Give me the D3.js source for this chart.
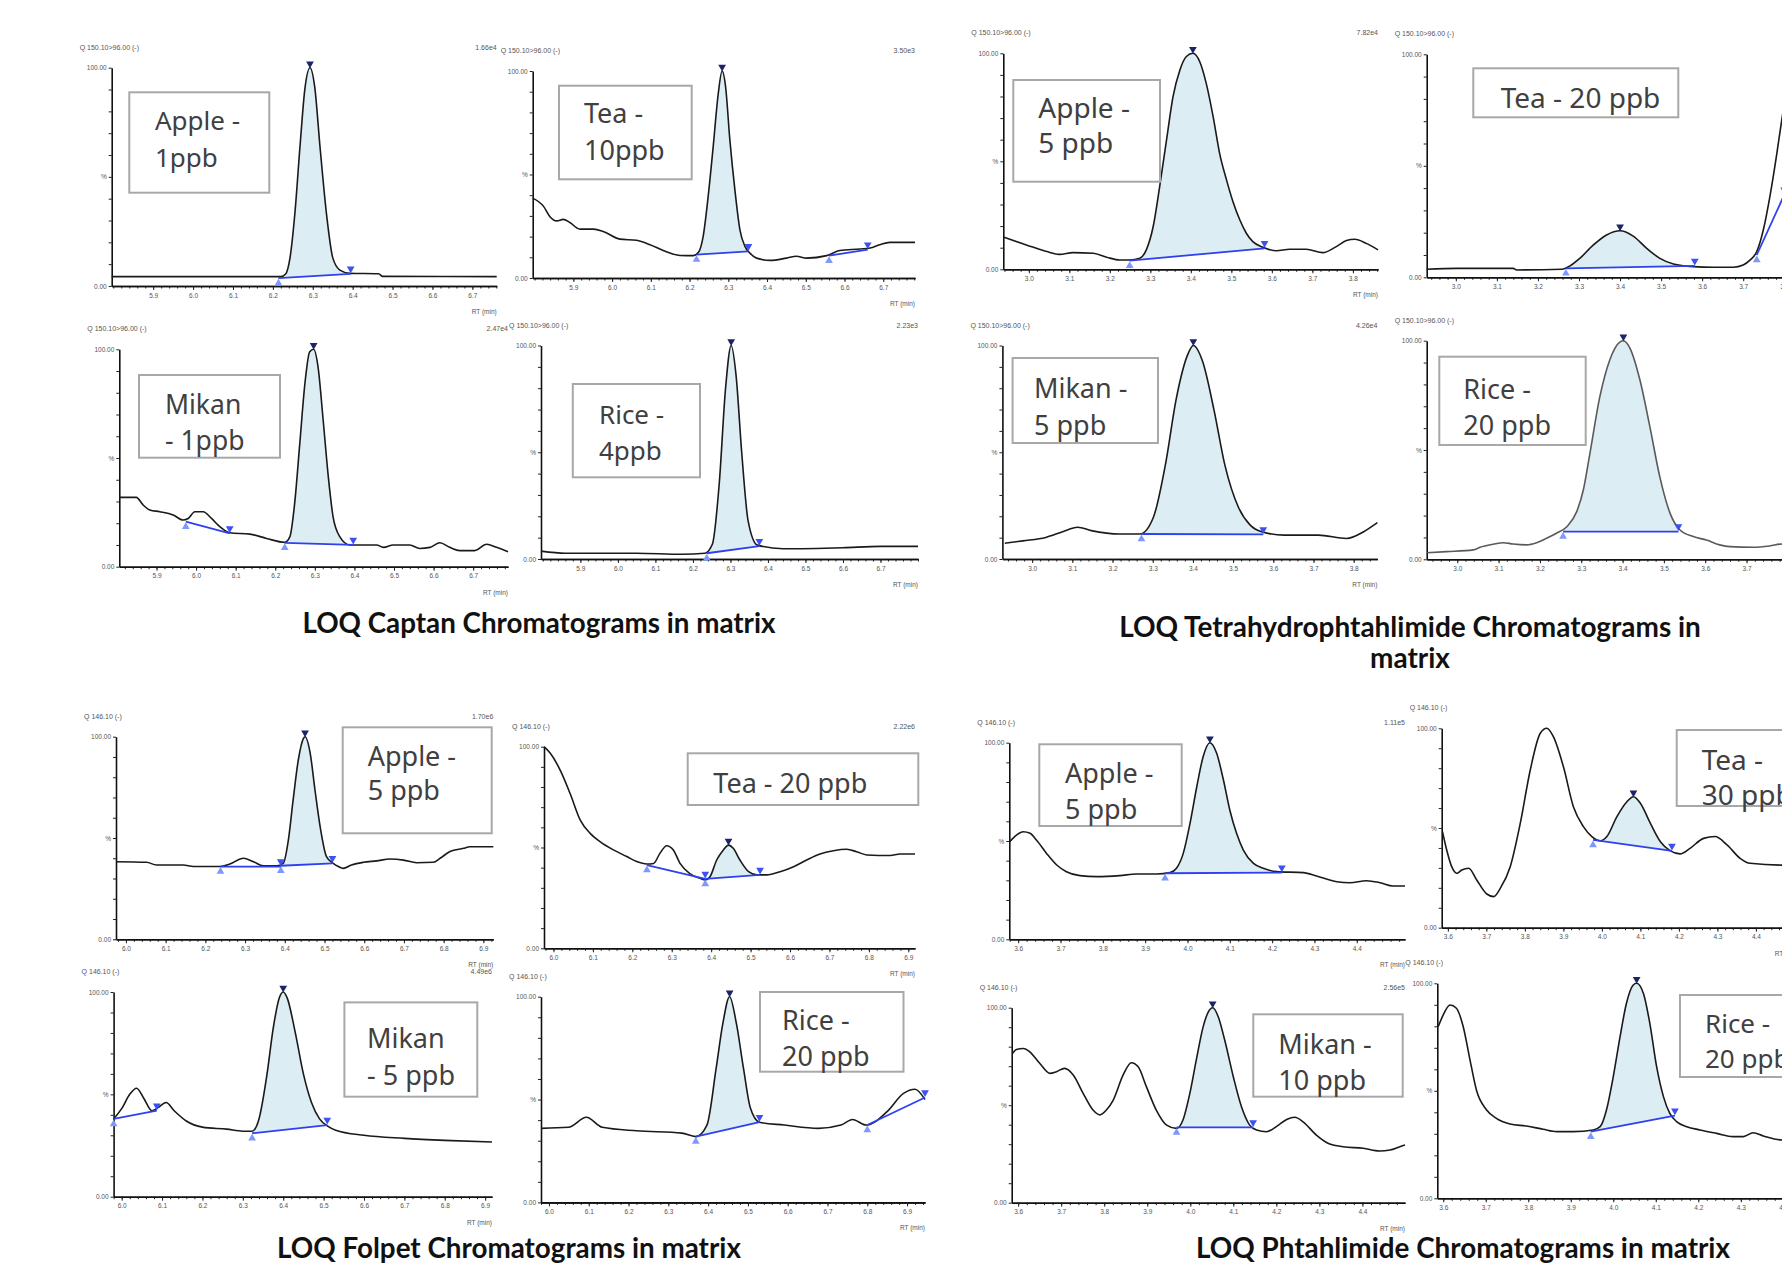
<!DOCTYPE html>
<html><head><meta charset="utf-8">
<script src="https://cdn.jsdelivr.net/npm/d3@7"></script>
<style>body{margin:0;background:#fff}svg{display:block}</style>
</head><body>
<svg id="c" width="1782" height="1263"></svg>
<script>
// ---------------- DATA (retention time [min], intensity [%]) ----------------
const captanTicks = [5.9,6.0,6.1,6.2,6.3,6.4,6.5,6.6,6.7];
const thpiTicks   = [3.0,3.1,3.2,3.3,3.4,3.5,3.6,3.7,3.8];
const folpetTicks = [6.0,6.1,6.2,6.3,6.4,6.5,6.6,6.7,6.8,6.9];
const phthTicks   = [3.6,3.7,3.8,3.9,4.0,4.1,4.2,4.3,4.4];
const yTickText = {0:'0.00', 50:'%', 100:'100.00'};

const captanApple1 = [[5.796,4.3],[5.95,4.3],[6.1,4.3],[6.22,4.3],[6.232,5.5],[6.243,13],[6.255,33],[6.268,64],[6.28,90],[6.293,100],[6.305,91],[6.318,64],[6.335,32],[6.35,13],[6.368,7.3],[6.393,5.8],[6.465,5.6],[6.475,4.4],[6.761,4.3]];
const captanApple1Peaks = [{t0:6.214,b0:3.6,t1:6.395,b1:5.6,fill:1,apex:6.293,apexV:100}];

const captanTea10 = [[5.795,38.6],[5.823,34.6],[5.84,29.5],[5.857,27.6],[5.874,28.3],[5.891,26.8],[5.917,23.6],[5.952,23.6],[5.977,22.5],[6.02,18.8],[6.063,18.2],[6.098,16.1],[6.132,13.3],[6.175,10.9],[6.21,10.8],[6.223,12.4],[6.235,20],[6.248,39.4],[6.261,63.5],[6.274,89],[6.284,100],[6.293,92.4],[6.304,66.7],[6.317,42.6],[6.33,23.3],[6.343,15.3],[6.356,12],[6.373,9.6],[6.408,8.5],[6.45,9.6],[6.476,10.5],[6.502,9.6],[6.554,10.8],[6.588,13.3],[6.64,14],[6.666,14.5],[6.691,16.1],[6.717,17.2],[6.782,17.2]];
const captanTea10Peaks = [{t0:6.218,b0:11.3,t1:6.352,b1:12.9,fill:1,apex:6.284,apexV:100},{t0:6.56,b0:10.8,t1:6.66,b1:13.7}];

const captanMikan1 = [[5.806,31.9],[5.849,31.9],[5.866,28.4],[5.883,26.1],[5.908,25.3],[5.942,23.8],[5.967,21.5],[5.98,22.2],[5.997,25.3],[6.018,25.3],[6.039,22.2],[6.06,18.4],[6.085,15.6],[6.136,15],[6.178,13],[6.224,11.2],[6.237,13.8],[6.249,29.1],[6.262,56.7],[6.275,84.4],[6.287,98.9],[6.297,100],[6.308,92],[6.321,67.5],[6.334,41.4],[6.346,23],[6.363,13.8],[6.388,10],[6.414,10],[6.456,10],[6.473,8.9],[6.498,10],[6.54,10],[6.565,8.4],[6.591,8.9],[6.616,11],[6.641,8.9],[6.666,7.4],[6.704,7.4],[6.734,10.3],[6.759,8.9],[6.788,6.9]];
const captanMikan1Peaks = [{t0:6.224,b0:11,t1:6.397,b1:10,fill:1,apex:6.297,apexV:100},{t0:5.974,b0:20.7,t1:6.085,b1:15.3}];

const captanRice4 = [[5.795,3.7],[5.86,2.7],[6.05,2.7],[6.17,2.2],[6.232,2.7],[6.252,7],[6.27,35],[6.287,80],[6.302,100],[6.315,86],[6.33,50],[6.347,18],[6.372,6.5],[6.44,4.8],[6.6,5.3],[6.7,5.9],[6.8,5.9]];
const captanRice4Peaks = [{t0:6.237,b0:2.7,t1:6.377,b1:6,fill:1,apex:6.302,apexV:100}];

const thpiApple5 = [[2.939,14.8],[2.994,11.3],[3.044,8.2],[3.076,6.9],[3.109,7.7],[3.159,7.4],[3.192,5.6],[3.225,4.3],[3.249,4.3],[3.274,5.1],[3.29,9],[3.307,19.8],[3.323,38.3],[3.34,59.9],[3.356,79.9],[3.373,92.3],[3.389,98.5],[3.405,100],[3.422,96.1],[3.438,86.1],[3.455,70.7],[3.471,53.7],[3.488,41.4],[3.504,31.3],[3.521,22.8],[3.537,16.7],[3.553,12.8],[3.578,10.2],[3.611,8.6],[3.644,9.3],[3.685,9.3],[3.726,7.7],[3.759,10.5],[3.784,13.3],[3.805,13.9],[3.833,12],[3.862,9]];
const thpiApple5Peaks = [{t0:3.249,b0:4,t1:3.582,b1:9.7,fill:1,apex:3.405,apexV:100}];

const thpiTea20 = [[2.929,3.6],[3.002,4],[3.14,4],[3.148,3.3],[3.258,3.6],[3.278,5.1],[3.302,8.5],[3.335,14.5],[3.367,19],[3.4,20.9],[3.432,18.5],[3.465,13],[3.497,8.5],[3.53,6],[3.578,4.8],[3.627,4.5],[3.676,4.5],[3.7,5.5],[3.717,7.8],[3.733,11.5],[3.749,21.2],[3.765,36.2],[3.782,55.6],[3.794,70.6],[3.81,88],[3.83,100]];
const thpiTea20Peaks = [{t0:3.268,b0:4,t1:3.582,b1:5.1,fill:1,apex:3.4,apexV:20.9},{t0:3.733,b0:10,t1:3.80,b1:37}];

const thpiMikan5 = [[2.932,7.4],[2.977,8.5],[3.034,10.1],[3.076,12.8],[3.113,14.9],[3.147,13.3],[3.218,11.7],[3.268,11.7],[3.302,19.7],[3.331,43.6],[3.359,75.5],[3.387,95.7],[3.401,100],[3.424,92.6],[3.452,70.2],[3.48,43.6],[3.514,23.9],[3.542,16],[3.571,12.8],[3.627,11.2],[3.712,11.2],[3.782,9.6],[3.825,12.8],[3.859,17]];
const thpiMikan5Peaks = [{t0:3.272,b0:11.7,t1:3.575,b1:11.5,fill:1,apex:3.401,apexV:100}];

const thpiRice20 = [[2.927,3],[2.974,3.5],[3.039,4.3],[3.055,5.5],[3.087,6.9],[3.111,7.6],[3.135,7],[3.168,6.6],[3.192,7.6],[3.216,9.6],[3.24,11.9],[3.265,14.9],[3.289,21.8],[3.305,31.7],[3.321,48.5],[3.345,74.4],[3.369,91.2],[3.394,99.5],[3.402,100],[3.418,96.5],[3.442,82],[3.466,60.7],[3.49,37.8],[3.515,21],[3.539,13.4],[3.571,10.4],[3.603,8.8],[3.635,6.6],[3.66,5.8],[3.716,5.5],[3.756,6.1],[3.786,7],[3.862,7]];
const thpiRice20Peaks = [{t0:3.256,b0:12.7,t1:3.535,b1:12.7,fill:1,apex:3.402,apexV:100}];

const folpetApple5 = [[5.976,38.3],[6.052,38],[6.077,36.7],[6.144,36.7],[6.17,35.9],[6.237,35.9],[6.262,37.2],[6.296,40],[6.321,38.3],[6.346,36.3],[6.38,36.3],[6.396,37.5],[6.409,49],[6.421,68.8],[6.434,88.5],[6.447,99.2],[6.451,100],[6.464,91.8],[6.476,73.7],[6.489,55.6],[6.505,40.8],[6.522,37.5],[6.535,35.9],[6.547,35],[6.568,36.7],[6.598,38],[6.631,38.7],[6.665,39.6],[6.699,39.1],[6.732,37.8],[6.774,38],[6.791,40],[6.816,43.3],[6.85,44.9],[6.866,45.7],[6.925,45.7]];
const folpetApple5Peaks = [{t0:6.39,b0:36.3,t1:6.52,b1:37.5,fill:1,apex:6.451,apexV:100},{t0:6.238,b0:35.9,t1:6.39,b1:35.9}];

const folpetTea20 = [[5.976,100],[5.992,96.7],[6.017,88.4],[6.042,76.9],[6.068,63.6],[6.093,57],[6.118,52.9],[6.152,48.8],[6.186,45.5],[6.211,43],[6.237,41.8],[6.254,42.1],[6.27,47.1],[6.287,50.9],[6.304,48.8],[6.321,42.1],[6.347,36.9],[6.372,34.7],[6.385,33.9],[6.397,35.5],[6.414,43.8],[6.431,48.8],[6.444,51.2],[6.456,49.6],[6.473,43.8],[6.495,38],[6.516,36.4],[6.541,36.4],[6.575,38],[6.609,40.5],[6.642,43.8],[6.676,46.8],[6.71,48.4],[6.744,49.1],[6.769,47.9],[6.795,46.3],[6.854,46],[6.879,46.8],[6.917,46.8]];
const folpetTea20Peaks = [{t0:6.385,b0:34.4,t1:6.524,b1:36.4,fill:1,apex:6.444,apexV:51.2},{t0:6.237,b0:41.3,t1:6.385,b1:34.4}];

const folpetMikan5 = [[5.98,38],[6.0,43],[6.02,50],[6.037,53],[6.055,48],[6.075,42],[6.09,43.5],[6.11,46],[6.13,42],[6.16,37],[6.2,34],[6.26,33],[6.3,32],[6.323,32],[6.34,38],[6.36,60],[6.375,82],[6.39,97],[6.4,100],[6.41,97],[6.43,80],[6.45,60],[6.47,46],[6.49,38],[6.51,34.5],[6.53,32.5],[6.6,30],[6.7,28.5],[6.8,27.5],[6.917,26.7]];
const folpetMikan5Peaks = [{t0:6.323,b0:31,t1:6.509,b1:35,fill:1,apex:6.4,apexV:100},{t0:5.98,b0:38,t1:6.087,b1:42}];

const folpetRice20 = [[5.98,36],[6.049,36.5],[6.094,41.4],[6.134,36.5],[6.22,34.8],[6.334,33.7],[6.369,32],[6.397,37.6],[6.42,65],[6.437,87],[6.454,100],[6.471,87],[6.489,65],[6.506,46],[6.529,39],[6.591,37.6],[6.677,36],[6.734,37.6],[6.763,40.3],[6.797,37.6],[6.849,44],[6.891,53],[6.92,55],[6.945,50]];
const folpetRice20Peaks = [{t0:6.369,b0:32,t1:6.529,b1:39,fill:1,apex:6.454,apexV:100},{t0:6.80,b0:37.6,t1:6.945,b1:51}];

const phthApple5 = [[3.58,49.7],[3.596,53],[3.612,54.7],[3.628,53.9],[3.643,50.5],[3.667,43.7],[3.691,37.8],[3.714,34.4],[3.746,32.4],[3.785,31.9],[3.84,32.4],[3.88,33.2],[3.927,33.2],[3.959,33.9],[3.974,36.1],[3.99,43.7],[4.006,59],[4.022,77.6],[4.037,92.9],[4.053,100],[4.069,94.6],[4.085,81],[4.1,65.8],[4.116,53.9],[4.132,45.4],[4.156,38.6],[4.179,36.1],[4.211,34.4],[4.274,33.9],[4.305,32.2],[4.353,29.3],[4.384,28.8],[4.423,29.8],[4.455,28.8],[4.486,27.1],[4.514,27.1]];
const phthApple5Peaks = [{t0:3.947,b0:33.6,t1:4.223,b1:33.9,fill:1,apex:4.053,apexV:100}];

const phthTea30 = [[3.586,48.2],[3.597,39],[3.61,30.6],[3.623,27.3],[3.636,28.9],[3.654,29.8],[3.675,23.9],[3.701,16.9],[3.719,15.6],[3.736,19.7],[3.762,30.6],[3.788,52.3],[3.814,79.1],[3.84,97.5],[3.857,100],[3.874,95.8],[3.9,80.8],[3.926,60.7],[3.952,50.7],[3.974,45.7],[3.996,43.6],[4.013,45.7],[4.039,55.7],[4.065,63.2],[4.082,65.7],[4.1,62.4],[4.126,52.3],[4.152,43.1],[4.178,38.5],[4.203,37],[4.229,39.8],[4.264,44.8],[4.294,45.7],[4.325,41.5],[4.359,34.8],[4.385,32.3],[4.468,31.4],[4.514,31.4]];
const phthTea30Peaks = [{t0:3.977,b0:44,t1:4.182,b1:38.5,fill:1,apex:4.082,apexV:65.7}];

const phthMikan10 = [[3.587,76.6],[3.596,78.6],[3.612,79.1],[3.627,77.4],[3.65,71.5],[3.674,66.3],[3.689,67.2],[3.708,68.9],[3.728,65.5],[3.751,56.1],[3.774,47.5],[3.79,45],[3.805,47.5],[3.821,52.6],[3.844,65.5],[3.863,71.8],[3.879,69.7],[3.898,59.5],[3.921,47.5],[3.945,39.8],[3.968,38.1],[3.983,42.4],[3.999,56.1],[4.014,73.2],[4.03,90.3],[4.042,97.9],[4.052,100],[4.065,95.4],[4.08,83.4],[4.1,64.6],[4.119,49.2],[4.138,39.8],[4.154,37.3],[4.177,36.4],[4.2,39],[4.224,42.7],[4.243,43.8],[4.262,41.5],[4.293,34.7],[4.324,30.1],[4.355,28.7],[4.402,27.9],[4.44,26.5],[4.464,27],[4.487,28.7],[4.499,29.6]];
const phthMikan10Peaks = [{t0:3.968,b0:38.6,t1:4.146,b1:38.6,fill:1,apex:4.052,apexV:100}];

const phthRice20 = [[3.588,79.8],[3.6,85.3],[3.616,89.9],[3.631,88.4],[3.647,79.8],[3.663,64.3],[3.678,50.4],[3.702,41.1],[3.725,37.2],[3.757,34.6],[3.796,33.6],[3.835,32.1],[3.867,31],[3.906,31],[3.953,31.8],[3.969,33.3],[3.984,41.1],[4.0,56.6],[4.016,75.2],[4.031,90.7],[4.047,99.2],[4.055,100],[4.071,95.3],[4.086,81.4],[4.102,61.2],[4.118,47.3],[4.133,39.5],[4.149,35.7],[4.173,33.3],[4.204,31.8],[4.243,30.2],[4.282,28.7],[4.306,28.7],[4.329,30.5],[4.353,29],[4.397,27.1],[4.5,27]];
const phthRice20Peaks = [{t0:3.947,b0:31,t1:4.145,b1:38.4,fill:1,apex:4.055,apexV:100}];

const hdrQ150 = 'Q 150.10>96.00 (-)';
const hdrQ146 = 'Q 146.10 (-)';

// ---------------- LAYOUT ----------------
const panels = [
 {trace:captanApple1, peaks:captanApple1Peaks, ticks:captanTicks, hdr:hdrQ150, inten:'1.66e4', x0:111.7, x1:496.7, yT:67.7, yB:286, dom:[5.796,6.761]},
 {trace:captanTea10, peaks:captanTea10Peaks, ticks:captanTicks, hdr:hdrQ150, inten:'3.50e3', x0:532.7, x1:915, yT:71, yB:278, dom:[5.795,6.782]},
 {trace:captanMikan1, peaks:captanMikan1Peaks, ticks:captanTicks, hdr:hdrQ150, inten:'2.47e4', x0:119.3, x1:508, yT:349.3, yB:566.7, dom:[5.806,6.788]},
 {trace:captanRice4, peaks:captanRice4Peaks, ticks:captanTicks, hdr:hdrQ150, inten:'2.23e3', x0:541, x1:918, yT:345.5, yB:559, dom:[5.795,6.80]},
 {trace:thpiApple5, peaks:thpiApple5Peaks, ticks:thpiTicks, hdr:hdrQ150, inten:'7.82e4', x0:1003.3, x1:1378, yT:53.3, yB:269.3, dom:[2.937,3.862]},
 {trace:thpiTea20, peaks:thpiTea20Peaks, ticks:thpiTicks, hdr:hdrQ150, inten:'', x0:1426.7, x1:1809.7, yT:54.3, yB:277.3, dom:[2.929,3.862]},
 {trace:thpiMikan5, peaks:thpiMikan5Peaks, ticks:thpiTicks, hdr:hdrQ150, inten:'4.26e4', x0:1002.4, x1:1377.4, yT:345.5, yB:559, dom:[2.926,3.859]},
 {trace:thpiRice20, peaks:thpiRice20Peaks, ticks:thpiTicks, hdr:hdrQ150, inten:'', x0:1426.7, x1:1813.5, yT:340.7, yB:559.3, dom:[2.926,3.862], ink:'#5a5a5a'},
 {trace:folpetApple5, peaks:folpetApple5Peaks, ticks:folpetTicks, hdr:hdrQ146, inten:'1.70e6', x0:116, x1:493.3, yT:736.7, yB:939.3, dom:[5.975,6.925]},
 {trace:folpetTea20, peaks:folpetTea20Peaks, ticks:folpetTicks, hdr:hdrQ146, inten:'2.22e6', x0:544, x1:915, yT:746.7, yB:948.3, dom:[5.976,6.917]},
 {trace:folpetMikan5, peaks:folpetMikan5Peaks, ticks:folpetTicks, hdr:hdrQ146, inten:'4.49e6', x0:113.6, x1:492, yT:992, yB:1196.7, dom:[5.98,6.917]},
 {trace:folpetRice20, peaks:folpetRice20Peaks, ticks:folpetTicks, hdr:hdrQ146, inten:'', x0:541, x1:925, yT:996.7, yB:1202.4, dom:[5.98,6.945]},
 {trace:phthApple5, peaks:phthApple5Peaks, ticks:phthTicks, hdr:hdrQ146, inten:'1.11e5', x0:1009.3, x1:1405, yT:742.7, yB:939.3, dom:[3.579,4.514]},
 {trace:phthTea30, peaks:phthTea30Peaks, ticks:phthTicks, hdr:hdrQ146, inten:'', x0:1441.7, x1:1799.8, yT:728.3, yB:927.7, dom:[3.584,4.514]},
 {trace:phthMikan10, peaks:phthMikan10Peaks, ticks:phthTicks, hdr:hdrQ146, inten:'2.56e5', x0:1011.7, x1:1405, yT:1007.7, yB:1202.7, dom:[3.585,4.499]},
 {trace:phthRice20, peaks:phthRice20Peaks, ticks:phthTicks, hdr:hdrQ146, inten:'', x0:1437.3, x1:1825.8, yT:983.3, yB:1198.3, dom:[3.586,4.5]}
];

const labels = [
 {r:[129.3,92.3,140,100.4], lines:['Apple -','1ppb'], tx:155, ty:[130,166.7], fs:26},
 {r:[559,85.7,132.7,93.6], lines:['Tea -','10ppb'], tx:584, ty:[123.3,160], fs:27},
 {r:[139,375,141,82.7], lines:['Mikan','- 1ppb'], tx:165, ty:[414,450], fs:26.5},
 {r:[572.8,384,127.2,93.3], lines:['Rice -','4ppb'], tx:599, ty:[424,460], fs:26},
 {r:[1013.3,80,146.7,101.7], lines:['Apple -','5 ppb'], tx:1038.3, ty:[118.3,153.3], fs:28},
 {r:[1473.3,68.3,205,49], lines:['Tea - 20 ppb'], tx:1500.7, ty:[108.3], fs:28},
 {r:[1012.6,358,145.4,85], lines:['Mikan -','5 ppb'], tx:1034, ty:[397.8,435], fs:27},
 {r:[1439.3,356.7,146.4,88.3], lines:['Rice -','20 ppb'], tx:1463.3, ty:[399.3,435], fs:27},
 {r:[342.7,727.3,149,106], lines:['Apple -','5 ppb'], tx:367.7, ty:[766,800], fs:27},
 {r:[687.7,753.3,230.6,51.7], lines:['Tea - 20 ppb'], tx:713.3, ty:[793.3], fs:27},
 {r:[344.4,1002.4,132.9,94.3], lines:['Mikan','- 5 ppb'], tx:367, ty:[1047.8,1085.3], fs:27},
 {r:[760,992,143.5,79.7], lines:['Rice -','20 ppb'], tx:782, ty:[1029.6,1066], fs:27},
 {r:[1039.3,744.3,142.4,81.7], lines:['Apple -','5 ppb'], tx:1065, ty:[783.3,819.3], fs:27},
 {r:[1676.7,730,130,76], lines:['Tea -','30 ppb'], tx:1701.7, ty:[770,805], fs:28},
 {r:[1253.3,1014.3,149.4,82.4], lines:['Mikan -','10 ppb'], tx:1278.3, ty:[1054,1090], fs:27},
 {r:[1680,995,130,82], lines:['Rice -','20 ppb'], tx:1705, ty:[1033.3,1068.3], fs:26}
];

const titles = [
 {text:'LOQ Captan Chromatograms in matrix', x:539, y:633, w:473},
 {text:'LOQ Tetrahydrophtahlimide Chromatograms in', x:1410, y:637, w:582},
 {text:'matrix', x:1410, y:668, w:0},
 {text:'LOQ Folpet Chromatograms in matrix', x:509, y:1258, w:464},
 {text:'LOQ Phtahlimide Chromatograms in matrix', x:1463, y:1258, w:534}
];

// ---------------- DRAW ----------------
const svg = d3.select('#c');
svg.append('rect').attr('width',1782).attr('height',1263).attr('fill','#fff');
const defs = svg.append('defs');
const fmt = d3.format('.1f');
const small = "'Liberation Sans', Arial, sans-serif";
const tri = d3.symbol().type(d3.symbolTriangle).size(26);

panels.forEach((p, i) => {
  const g = svg.append('g');
  const x = d3.scaleLinear().domain(p.dom).range([p.x0, p.x1]);
  const y = d3.scaleLinear().domain([0,100]).range([p.yB, p.yT]);
  const ink = p.ink || '#1a1a1a';
  const area = d3.area().x(d=>x(d[0])).y0(p.yB).y1(d=>y(d[1])).curve(d3.curveMonotoneX);
  const line = d3.line().x(d=>x(d[0])).y(d=>y(d[1])).curve(d3.curveMonotoneX);

  // shaded integrated peaks
  p.peaks.filter(k=>k.fill).forEach((k,j)=>{
    const id = `clip${i}_${j}`;
    defs.append('clipPath').attr('id', id).append('polygon')
      .attr('points', [[x(k.t0),y(k.b0)],[x(k.t1),y(k.b1)],[x(k.t1),p.yT-30],[x(k.t0),p.yT-30]].map(q=>q.join(',')).join(' '));
    g.append('path').datum(p.trace).attr('clip-path',`url(#${id})`).attr('fill','#dcedf4').attr('d', area);
  });

  // axes
  const minor = d3.range(Math.ceil(p.dom[0]*50-1e-6), Math.floor(p.dom[1]*50+1e-6)+1).map(v=>v/50);
  const xm = g.append('g').attr('transform',`translate(0,${p.yB})`)
    .call(d3.axisBottom(x).tickValues(minor).tickSize(2.5).tickSizeOuter(0).tickFormat(''));
  const xa = g.append('g').attr('transform',`translate(0,${p.yB})`)
    .call(d3.axisBottom(x).tickValues(p.ticks).tickSize(4).tickSizeOuter(0).tickFormat(fmt).tickPadding(3));
  const ya = g.append('g').attr('transform',`translate(${p.x0},0)`)
    .call(d3.axisLeft(y).tickValues(d3.range(0,101,10)).tickSize(3).tickSizeOuter(0).tickPadding(2)
      .tickFormat(d => yTickText[d] || ''));
  [xm, xa, ya].forEach(a => {
    a.select('.domain').attr('stroke','#111').attr('stroke-width',1.6);
    a.selectAll('.tick line').attr('stroke','#222').attr('stroke-width',1);
    a.selectAll('.tick text').attr('fill','#555').style('font-family', small).style('font-size','6.5px');
  });

  // trace
  g.append('path').datum(p.trace).attr('fill','none').attr('stroke',ink).attr('stroke-width',1.6)
    .attr('stroke-linejoin','round').attr('d', line);

  // baselines + markers
  p.peaks.forEach(k=>{
    g.append('line').attr('x1',x(k.t0)).attr('y1',y(k.b0)).attr('x2',x(k.t1)).attr('y2',y(k.b1))
      .attr('stroke','#2e40f0').attr('stroke-width',1.8);
    g.append('path').attr('d',tri).attr('fill','#7f98ff')
      .attr('transform',`translate(${x(k.t0)},${y(k.b0)+5})`);
    g.append('path').attr('d',tri).attr('fill','#3d50f2')
      .attr('transform',`translate(${x(k.t1)},${y(k.b1)-5}) rotate(180)`);
    if (k.apex !== undefined) {
      g.append('path').attr('d',tri).attr('fill','#1b2466')
        .attr('transform',`translate(${x(k.apex)},${y(k.apexV)-4}) rotate(180)`);
    }
  });

  // header texts
  g.append('text').attr('x',p.x0-32).attr('y',p.yT-18).text(p.hdr)
    .attr('fill','#555').style('font-family',small).style('font-size','7px');
  if (p.inten) g.append('text').attr('x',p.x1).attr('y',p.yT-18).attr('text-anchor','end').text(p.inten)
    .attr('fill','#555').style('font-family',small).style('font-size','7px');
  g.append('text').attr('x',p.x1).attr('y',p.yB+28).attr('text-anchor','end').text('RT (min)')
    .attr('fill','#555').style('font-family',small).style('font-size','6.5px');
});

// sample label boxes
labels.forEach(l=>{
  svg.append('rect').attr('x',l.r[0]).attr('y',l.r[1]).attr('width',l.r[2]).attr('height',l.r[3])
    .attr('fill','none').attr('stroke','#a8a8a8').attr('stroke-width',2);
  l.lines.forEach((s,j)=>{
    svg.append('text').attr('x',l.tx).attr('y',l.ty[j]).text(s)
      .attr('fill','#404040').style('font-family',"'Noto Sans', sans-serif").style('font-size',l.fs+'px');
  });
});

// group titles (fit to measured width)
let lastFs = 25;
titles.forEach(t=>{
  const el = svg.append('text').attr('x',t.x).attr('y',t.y).attr('text-anchor','middle').text(t.text)
    .attr('fill','#111').style('font-family',"Lato, 'Open Sans', sans-serif").style('font-weight','700').style('font-size','100px');
  let fs = lastFs;
  if (t.w) { fs = 100 * t.w / el.node().getComputedTextLength(); lastFs = fs; }
  el.style('font-size', fs.toFixed(2)+'px');
});
</script>
</body></html>
